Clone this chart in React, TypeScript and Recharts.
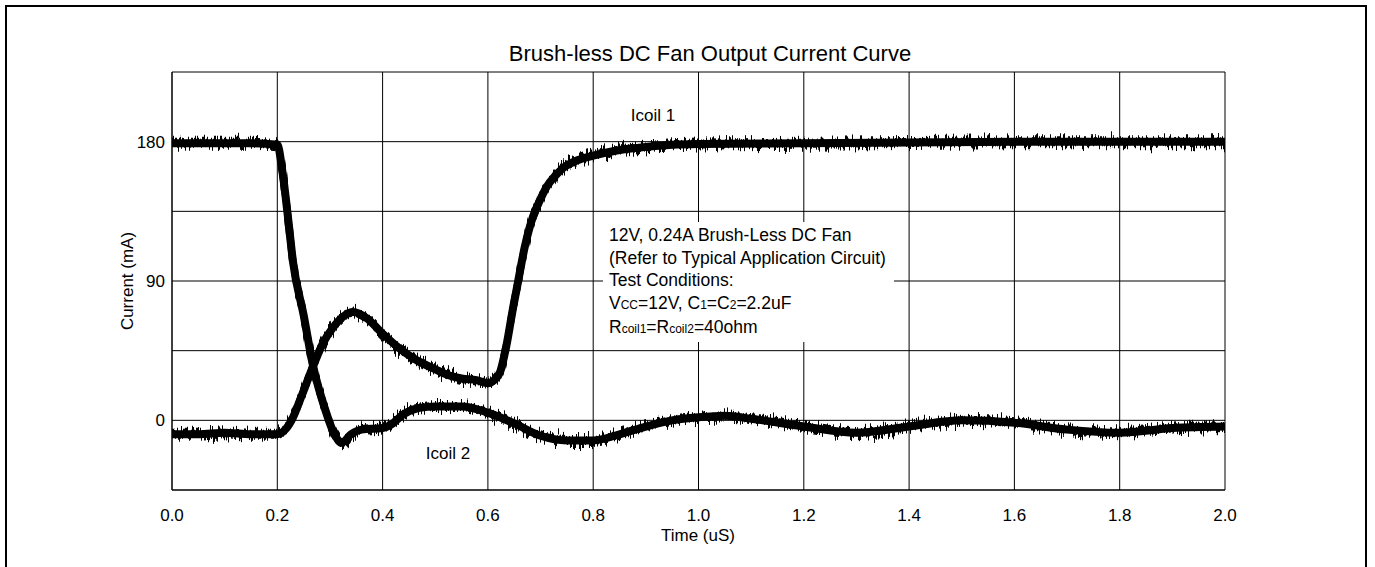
import { LineChart, Line, XAxis, YAxis, CartesianGrid } from 'recharts';

// Icoil 1: starts near zero, humps, then rises to ~180 mA
const coil1Time = [
  0, 0.05, 0.1, 0.15, 0.2, 0.215, 0.23, 0.243, 0.268, 0.287, 0.306, 0.325, 0.344, 0.37, 0.4, 0.43,
  0.464, 0.5, 0.527, 0.55, 0.578, 0.6, 0.612, 0.623, 0.635, 0.648, 0.657, 0.67, 0.686, 0.7, 0.712,
  0.728, 0.743, 0.77, 0.8, 0.84, 0.883, 0.95, 1.0, 1.2, 1.4, 1.6, 1.8, 2.0,
];
const coil1Current = [
  -9, -9, -8, -9, -9, -6, 2, 13, 35, 50, 60, 67, 70, 66, 56, 47, 39, 33, 29, 27, 26, 24, 26, 31, 48,
  73, 89, 112, 132, 143, 151, 158, 163, 168, 171, 174, 176, 178, 178.5, 179, 179.5, 180, 180, 180,
];

// Icoil 2: starts at ~180 mA, falls, then rings around zero
const coil2Time = [
  0, 0.05, 0.1, 0.15, 0.2, 0.21, 0.22, 0.23, 0.25, 0.268, 0.29, 0.31, 0.322, 0.34, 0.36, 0.4, 0.415,
  0.44, 0.47, 0.5, 0.55, 0.6, 0.65, 0.7, 0.75, 0.8, 0.85, 0.9, 0.95, 1.0, 1.05, 1.1, 1.2, 1.3, 1.4,
  1.5, 1.6, 1.7, 1.8, 1.9, 2.0,
];
const coil2Current = [
  179, 179, 179, 179, 178, 160, 132, 102, 68, 35, 8, -10, -14.5, -9, -6, -5, -3, 4, 8, 9, 9, 5, -2,
  -10, -13, -13, -9, -4, 0, 2, 3, 1, -4, -8, -4, 0, -1.5, -6, -8, -5, -4,
];

const timeTicks = [0, 0.2, 0.4, 0.6, 0.8, 1.0, 1.2, 1.4, 1.6, 1.8, 2.0];
const currentTicks = [-45, 0, 45, 90, 135, 180, 225];
const labelledCurrent = [0, 90, 180];

const font = '"Liberation Sans", Arial, sans-serif';

const toRows = (times: number[], values: number[]) => times.map((t, i) => ({ t, v: values[i] }));

const centered = (x: number, y: number, size: number): React.CSSProperties => ({
  position: 'absolute',
  left: x,
  top: y,
  transform: 'translate(-50%, -50%)',
  fontSize: size,
  lineHeight: 1,
  whiteSpace: 'nowrap',
  color: '#000',
});

const small: React.CSSProperties = { fontSize: 12 };

export default function App() {
  const coil1 = toRows(coil1Time, coil1Current);
  const coil2 = toRows(coil2Time, coil2Current);
  const tickStyle = { fontFamily: font, fontSize: 17, fill: '#000' };

  // each trace = solid core + a jittered copy on top, to look like a scope capture
  const traces = [coil1, coil2].flatMap((rows, i) => [
    <Line
      key={`core${i}`}
      data={rows}
      dataKey="v"
      type="monotone"
      stroke="#000"
      strokeWidth={8}
      dot={false}
      isAnimationActive={false}
    />,
    <Line
      key={`fuzz${i}`}
      className="scope-trace"
      data={rows}
      dataKey="v"
      type="monotone"
      stroke="#000"
      strokeWidth={7}
      dot={false}
      isAnimationActive={false}
    />,
  ]);

  return (
    <div
      style={{
        position: 'absolute',
        left: 0,
        top: 0,
        width: 1375,
        height: 567,
        overflow: 'hidden',
        background: '#fff',
        fontFamily: font,
      }}
    >
      <svg width={0} height={0} style={{ position: 'absolute' }}>
        <defs>
          <filter
            id="scopeNoise"
            filterUnits="userSpaceOnUse"
            x={0}
            y={0}
            width={1375}
            height={567}
            colorInterpolationFilters="sRGB"
          >
            <feTurbulence type="fractalNoise" baseFrequency="0.7 0.01" numOctaves={2} seed={7} result="turb" />
            <feColorMatrix
              in="turb"
              type="matrix"
              values="0 0 0 0 0.5  1 0 0 0 0  0 0 0 0 0  0 0 0 0 1"
              result="shift"
            />
            <feDisplacementMap in="SourceGraphic" in2="shift" scale={22} xChannelSelector="R" yChannelSelector="G" />
          </filter>
        </defs>
      </svg>
      <style>{'.scope-trace path { filter: url(#scopeNoise); }'}</style>

      <div
        style={{
          position: 'absolute',
          left: 5,
          top: 5,
          width: 1362,
          height: 620,
          border: '2px solid #000',
          boxSizing: 'border-box',
        }}
      />
      <div style={{ position: 'absolute', left: 0, top: 0 }}>
        <LineChart width={1375} height={567} margin={{ top: 72, right: 150, bottom: 47, left: 112 }}>
          <CartesianGrid stroke="#000" strokeWidth={1} />
          <XAxis
            dataKey="t"
            type="number"
            domain={[0, 2]}
            ticks={timeTicks}
            tickFormatter={(v: number) => v.toFixed(1)}
            tick={tickStyle}
            tickSize={0}
            tickMargin={19}
            axisLine={{ stroke: '#000' }}
            height={30}
            allowDuplicatedCategory={false}
          />
          <YAxis
            type="number"
            domain={[-45, 225]}
            ticks={currentTicks}
            tickFormatter={(v: number) => (labelledCurrent.includes(v) ? String(v) : '')}
            tick={tickStyle}
            tickSize={0}
            tickMargin={7}
            axisLine={{ stroke: '#000' }}
            width={60}
          />
          {traces}
        </LineChart>
      </div>

      <div style={centered(710, 54, 22)}>Brush-less DC Fan Output Current Curve</div>
      <div style={centered(698, 535, 17)}>Time (uS)</div>
      <div style={{ ...centered(127, 281, 17), transform: 'translate(-50%, -50%) rotate(-90deg)' }}>
        Current (mA)
      </div>
      <div style={centered(653, 115, 17)}>Icoil 1</div>
      <div style={centered(448, 453, 17)}>Icoil 2</div>

      <div
        style={{
          position: 'absolute',
          left: 603,
          top: 222,
          width: 291,
          height: 120,
          background: '#fff',
          boxSizing: 'border-box',
          paddingTop: 2,
          paddingLeft: 6,
          fontSize: 17.5,
          lineHeight: '22.5px',
          whiteSpace: 'nowrap',
          color: '#000',
        }}
      >
        <div>12V, 0.24A Brush-Less DC Fan</div>
        <div>(Refer to Typical Application Circuit)</div>
        <div>Test Conditions:</div>
        <div>
          V<span style={small}>CC</span>=12V, C<span style={small}>1</span>=C<span style={small}>2</span>=2.2uF
        </div>
        <div>
          R<span style={small}>coil1</span>=R<span style={small}>coil2</span>=40ohm
        </div>
      </div>
    </div>
  );
}
